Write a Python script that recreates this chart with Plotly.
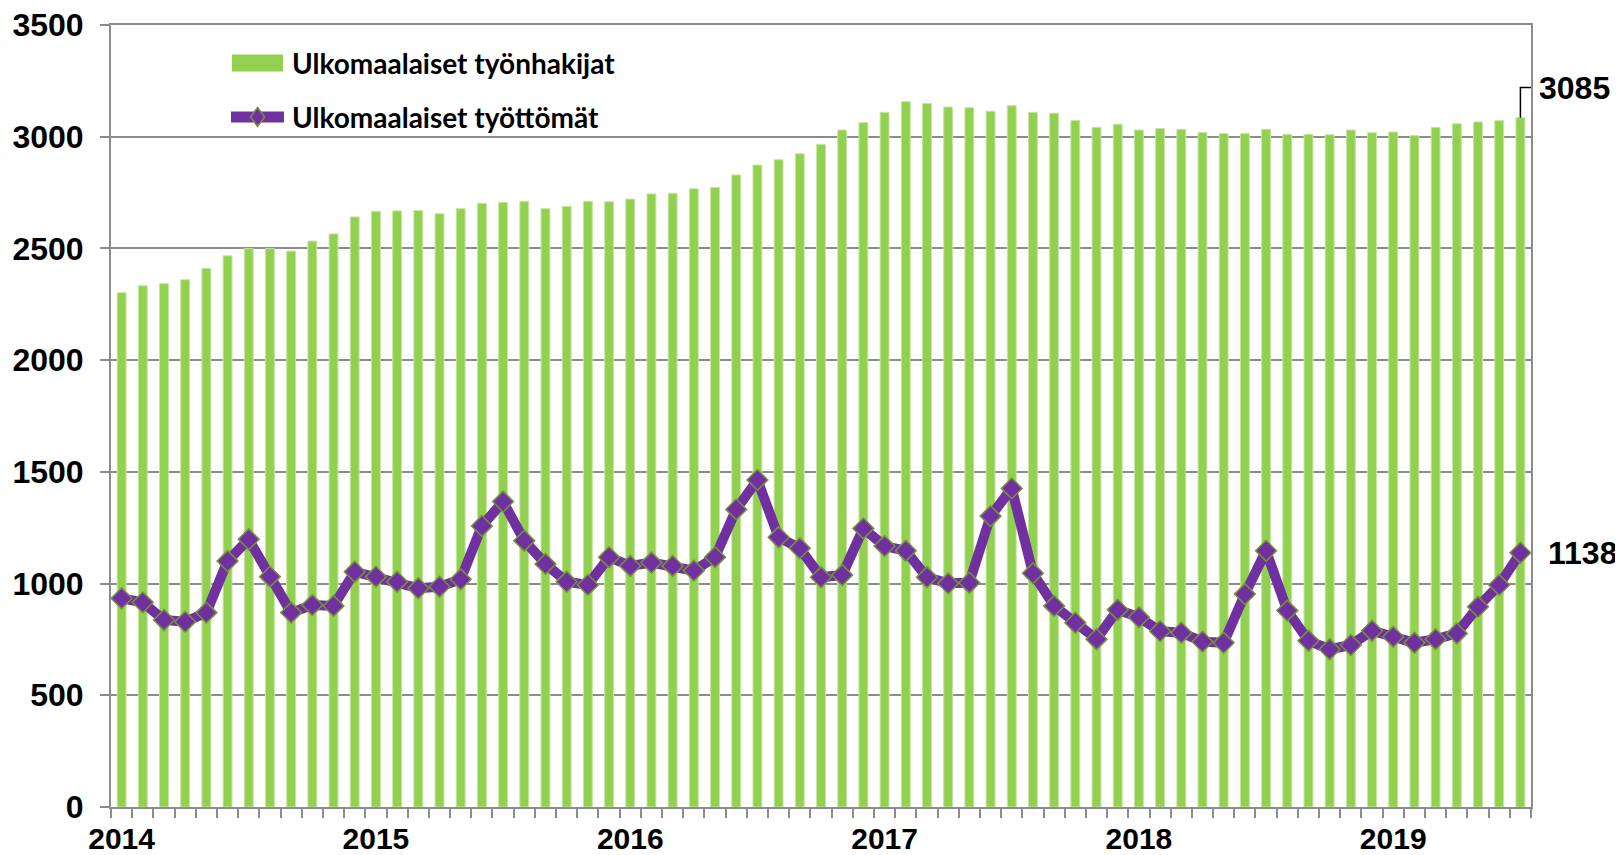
import plotly.graph_objects as go

# monthly data Jan 2014 .. Jul 2019
years = ["2014", "2015", "2016", "2017", "2018", "2019"]

job_seekers = [
    2302, 2333, 2342, 2360, 2411, 2467, 2499, 2499, 2488, 2533, 2565, 2641,
    2666, 2668, 2670, 2655, 2678, 2702, 2706, 2711, 2678, 2688, 2711, 2709,
    2721, 2744, 2747, 2767, 2773, 2829, 2873, 2897, 2924, 2966, 3030, 3063,
    3109, 3157, 3149, 3133, 3130, 3114, 3139, 3109, 3105, 3073, 3042, 3056,
    3030, 3037, 3033, 3020, 3014, 3014, 3033, 3011, 3011, 3009, 3030, 3018,
    3021, 3005, 3042, 3058, 3066, 3072, 3085,
]

unemployed = [
    934, 916, 837, 829, 870, 1101, 1198, 1031, 870, 904, 900, 1053,
    1031, 1008, 979, 986, 1019, 1258, 1367, 1192, 1088, 1008, 994, 1118,
    1079, 1094, 1079, 1058, 1118, 1332, 1464, 1207, 1158, 1028, 1038, 1247,
    1168, 1147, 1028, 1001, 1004, 1302, 1426, 1046, 900, 825, 751, 883,
    849, 787, 780, 740, 735, 953, 1147, 879, 744, 706, 725, 789,
    762, 735, 751, 777, 896, 994, 1138,
]

name_bars = "Ulkomaalaiset työnhakijat"
name_line = "Ulkomaalaiset työttömät"

GREEN = "#92D050"
PURPLE = "#7030A0"
OLIVE = "#77933C"
GRID = "#8C8C8C"

x = list(range(len(job_seekers)))
last = len(x) - 1

fig = go.Figure()
fig.add_trace(go.Bar(
    x=x, y=job_seekers, name=name_bars, width=0.42,
    marker=dict(color=GREEN, line=dict(color="#C6E6A2", width=1)),
))
fig.add_trace(go.Scatter(
    x=x, y=unemployed, name=name_line, mode="lines+markers",
    line=dict(color=PURPLE, width=10),
    marker=dict(symbol="diamond", size=16, color=PURPLE, line=dict(color=OLIVE, width=1.5)),
))

num_font = dict(family="Liberation Sans, Arial", size=32, color="black", weight="bold")

# the page body adds an 8 px offset, so the figure is 8 px smaller each way
fig.update_layout(
    width=1615, height=847,
    margin=dict(l=103, r=92, t=17, b=48),
    plot_bgcolor="white", paper_bgcolor="white",
    showlegend=False,
    bargap=0.6,
)
fig.update_yaxes(
    range=[0, 3500], dtick=500, showgrid=True, gridcolor=GRID, gridwidth=1.5,
    showline=True, linecolor=GRID, linewidth=2, mirror=True,
    ticks="outside", ticklen=9, tickcolor=GRID, tickwidth=1.5,
    tickfont=num_font, ticklabelstandoff=10, zeroline=False, automargin=False,
    ticklabeloverflow="allow",
)
fig.update_xaxes(
    range=[-0.5, last + 0.5], tickmode="array",
    tickvals=[i * 12 for i in range(len(years))], ticktext=years,
    ticks="", tickfont=dict(family="Liberation Sans, Arial", size=30, color="black", weight="bold"),
    showline=True, linecolor=GRID, linewidth=2, mirror=True, showgrid=False, zeroline=False,
    minor=dict(ticks="outside", ticklen=9, tickcolor=GRID, tickwidth=1.5,
               tickmode="array", tickvals=[i - 0.5 for i in range(len(x) + 1)], showgrid=False),
    ticklabelstandoff=4, automargin=False, ticklabeloverflow="allow",
)

# end value labels
elbow = job_seekers[-1] + 135
fig.add_shape(type="path", xref="x", yref="y",
              path=f"M {last},{job_seekers[-1]} L {last},{elbow} L {last + 0.5},{elbow}",
              line=dict(color="black", width=1.5))
fig.add_annotation(x=last + 0.5, y=elbow, text=str(job_seekers[-1]), showarrow=False,
                   xanchor="left", yanchor="middle", xshift=6, font=num_font)
fig.add_annotation(x=last, y=unemployed[-1], text=str(unemployed[-1]), showarrow=False,
                   xanchor="left", yanchor="middle", xshift=26, font=num_font)

# legend drawn inside the plot, top left
leg_font = dict(family="Lato, Noto Sans", size=28, color="black", weight="bold")
fig.add_shape(type="rect", xref="paper", yref="paper", x0=0.0852, x1=0.1211, y0=0.9405, y1=0.9623,
              fillcolor=GREEN, line=dict(width=0))
fig.add_shape(type="line", xref="paper", yref="paper", x0=0.0845, x1=0.1218, y0=0.8824, y1=0.8824,
              line=dict(color=PURPLE, width=11))
fig.add_shape(type="path", xref="paper", yref="paper",
              path="M 0.1032,0.8945 L 0.1082,0.8824 L 0.1032,0.8703 L 0.0982,0.8824 Z",
              fillcolor=PURPLE, line=dict(color=OLIVE, width=1.5))
fig.add_annotation(xref="paper", yref="paper", x=0.126, y=0.9514, text=name_bars, showarrow=False,
                   xanchor="left", yanchor="middle", font=leg_font)
fig.add_annotation(xref="paper", yref="paper", x=0.126, y=0.8824, text=name_line, showarrow=False,
                   xanchor="left", yanchor="middle", font=leg_font)

fig.write_html("out.html")
